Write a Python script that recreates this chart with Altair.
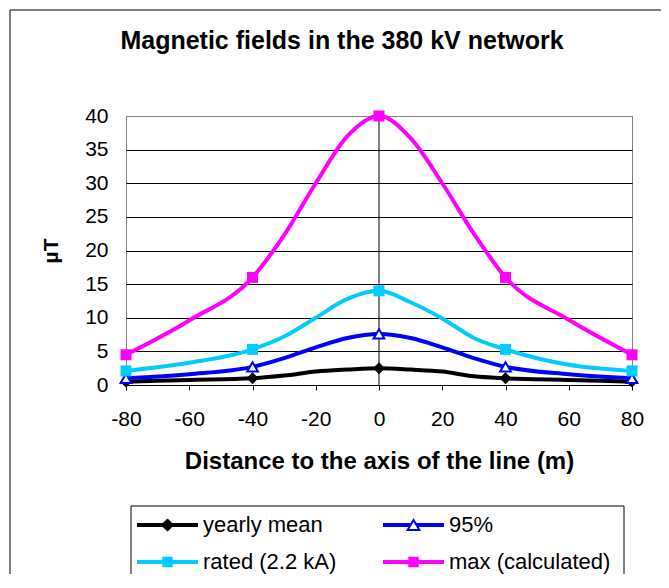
import altair as alt
import pandas as pd

# ---------------- data ----------------
distance = [-80, -60, -40, -30, -20, -10, 0, 10, 20, 30, 40, 60, 80]
yearly_mean = [0.5, 0.75, 1.0, 1.4, 2.0, 2.3, 2.5, 2.3, 2.0, 1.3, 1.0, 0.75, 0.5]
p95 = [1.0, 1.6, 2.7, 4.0, 5.6, 7.0, 7.6, 7.0, 5.6, 4.0, 2.7, 1.6, 1.0]
rated = [2.1, 3.3, 5.3, 7.2, 10.0, 12.8, 14.0, 12.3, 9.9, 7.0, 5.3, 3.0, 2.1]
max_calc = [4.5, 9.6, 16.0, 22.3, 30.0, 37.0, 40.0, 36.7, 30.0, 22.5, 16.0, 9.7, 4.5]
marker_distances = [-80, -40, 0, 40, 80]

series_names = ["yearly mean", "95%", "rated (2.2 kA)", "max (calculated)"]
series_colors = ["#000000", "#0000FF", "#00CCFF", "#FF00FF"]

title_text = "Magnetic fields in the 380 kV network"
x_title = "Distance to the axis of the line (m)"
y_title = "µT"
x_ticks = [-80, -60, -40, -20, 0, 20, 40, 60, 80]
y_ticks = [0, 5, 10, 15, 20, 25, 30, 35, 40]

FONT = "Liberation Sans"

rows = []
for name, vals in zip(series_names, [yearly_mean, p95, rated, max_calc]):
    for d, v in zip(distance, vals):
        rows.append({"series": name, "distance": d, "value": v,
                     "marker": d in marker_distances})
df = pd.DataFrame(rows)
# legend table: two columns, two rows, in series order
legend_df = pd.DataFrame({"series": series_names,
                          "col": [i % 2 for i in range(len(series_names))],
                          "row": [i // 2 for i in range(len(series_names))]})
one = pd.DataFrame({"k": [0]})

color_scale = alt.Scale(domain=series_names, range=series_colors)

x_enc = alt.X("distance:Q",
              scale=alt.Scale(domain=[-80, 80], nice=False, zero=False),
              axis=alt.Axis(values=x_ticks, grid=False, tickSize=5, tickColor="black",
                            domainColor="black", labelFont=FONT, labelFontSize=21,
                            labelColor="black", labelPadding=18, labelFlush=False,
                            labelOverlap=False, labelExpr="'' + datum.value",
                            title=x_title, titleFont=FONT,
                            titleFontSize=24, titleFontWeight="bold", titleColor="black",
                            titlePadding=20))
y_enc = alt.Y("value:Q",
              scale=alt.Scale(domain=[0, 40], nice=False),
              axis=alt.Axis(values=y_ticks, grid=True,
                            gridColor={"condition": {"test": "datum.value === 40", "value": "#808080"},
                                       "value": "black"},
                            gridWidth=1, domain=False, ticks=False, labelFont=FONT,
                            labelFontSize=21, labelColor="black", labelPadding=18,
                            title=y_title, titleFont=FONT, titleFontSize=21,
                            titleFontWeight="bold", titleColor="black", titlePadding=23))

frame_top = alt.Chart(one).mark_rule(color="black", strokeWidth=1).encode(
    x=alt.value(-116), x2=alt.value(560), y=alt.value(-106))
frame_left = alt.Chart(one).mark_rule(color="black", strokeWidth=1).encode(
    x=alt.value(-116), y=alt.value(-106), y2=alt.value(500))

title = alt.Chart(one).mark_text(
    text=title_text, font=FONT, fontSize=25, fontWeight="bold",
    align="center", baseline="alphabetic", color="black").encode(
    x=alt.value(216), y=alt.value(-67))

zero_rule = alt.Chart(one).mark_rule(color="black", strokeWidth=1).encode(x=alt.datum(0))

lines = alt.Chart(df).mark_line(strokeWidth=4, interpolate="monotone").encode(
    x=x_enc, y=y_enc,
    color=alt.Color("series:N", scale=color_scale, legend=None))

marker_styles = {
    "yearly mean": dict(shape="diamond", fill="#000000", stroke="#000000", strokeWidth=1, size=120),
    "95%": dict(shape="triangle-up", fill="#FFFFFF", stroke="#0000FF", strokeWidth=2, size=115),
    "rated (2.2 kA)": dict(shape="square", fill="#00CCFF", strokeWidth=0, size=121),
    "max (calculated)": dict(shape="square", fill="#FF00FF", strokeWidth=0, size=121),
}
legend_marker_size = {"yearly mean": 150, "95%": 140, "rated (2.2 kA)": 110,
                      "max (calculated)": 110}

marker_layers = []
for name in series_names:
    st = marker_styles[name]
    marker_layers.append(
        alt.Chart(df).transform_filter(
            (alt.datum.series == name) & (alt.datum.marker == True)
        ).mark_point(opacity=1, filled=False, **st).encode(x=x_enc, y=y_enc)
    )

main = alt.layer(frame_top, frame_left, title, zero_rule, lines, *marker_layers)

# ---------------- legend (own scales mapping column/row to the legend box) -------------
leg_x = alt.X("col:Q", scale=alt.Scale(domain=[0, 1], range=[11, 257]), axis=None)
leg_y = alt.Y("row:Q", scale=alt.Scale(domain=[0, 1], range=[409, 446]), axis=None)

legend_box = alt.Chart(one).mark_rect(fill="white", stroke="black", strokeWidth=1).encode(
    x=alt.value(5), x2=alt.value(498), y=alt.value(390), y2=alt.value(490))

legend_lines = alt.Chart(legend_df).mark_rule(strokeWidth=4, x2Offset=61).encode(
    x=leg_x, x2=alt.X2("col"), y=leg_y,
    color=alt.Color("series:N", scale=color_scale, legend=None))

legend_markers = []
for name in series_names:
    st = dict(marker_styles[name])
    st["size"] = legend_marker_size[name]
    legend_markers.append(
        alt.Chart(legend_df).transform_filter(alt.datum.series == name)
        .mark_point(opacity=1, filled=False, xOffset=30.5, **st)
        .encode(x=leg_x, y=leg_y)
    )

legend_labels = alt.Chart(legend_df).mark_text(
    align="left", baseline="middle", dx=66, font=FONT, fontSize=22, color="black").encode(
    x=leg_x, y=leg_y, text="series:N")

legend = alt.layer(legend_box, legend_lines, *legend_markers, legend_labels)

chart = alt.layer(main, legend).resolve_scale(x="independent", y="independent").properties(
    width=506, height=269,
    autosize=alt.AutoSizeParams(type="none"),
    padding={"left": 118, "top": 108, "right": 29, "bottom": 189},
    background="white",
).configure_view(stroke="#808080", strokeWidth=1)

chart.save("out.html", embed_options={"renderer": "svg", "actions": False})
